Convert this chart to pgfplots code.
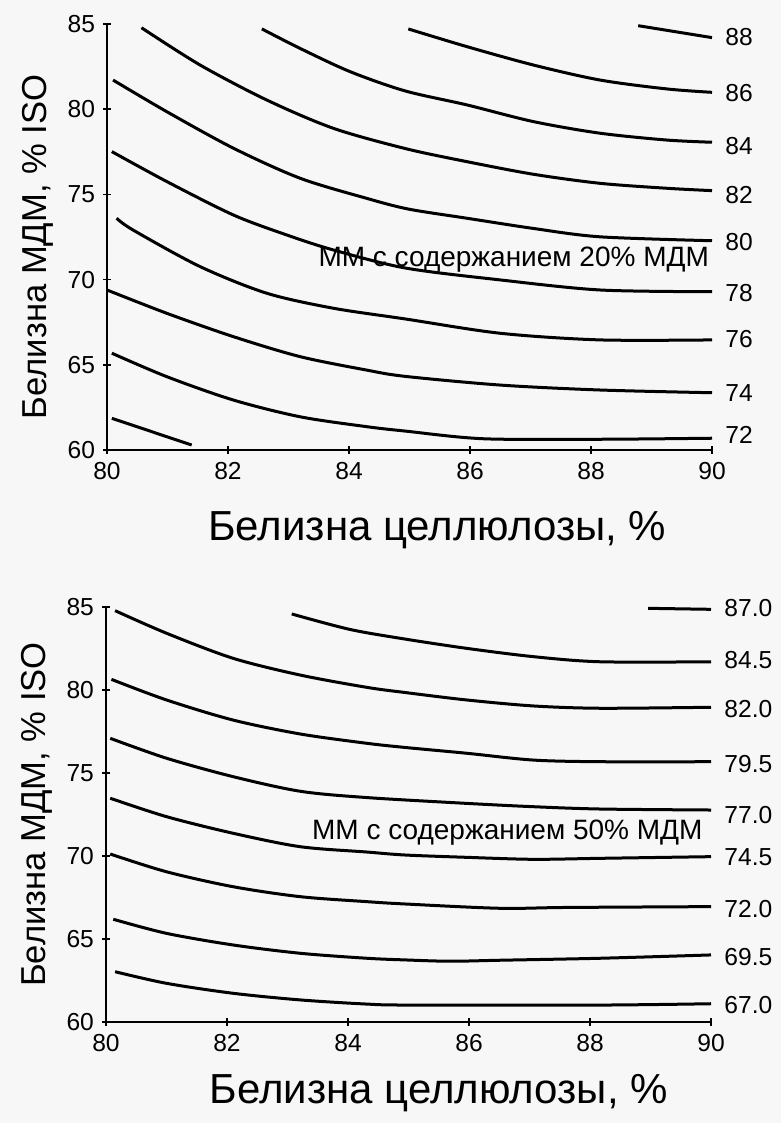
\documentclass[border=0pt]{standalone}
\usepackage{fontspec}
\setmainfont{Liberation Sans}
\usepackage{pgfplots}
\pgfplotsset{compat=1.18}
\definecolor{bgcol}{RGB}{247,247,247}
\pgfplotsset{
  cstyle/.style={
    scale only axis, width=302.5pt, xmin=80, xmax=90, ymin=60, ymax=85,
    axis lines=left, axis line style={-, line width=1.4pt},
    xtick={80,82,...,90}, ytick={60,65,...,85},
    tick align=center, major tick length=4pt, tick style={line width=0.8pt, black},
    /pgf/number format/assume math mode=true,
    ticklabel style={font=\fontsize{12.3}{13}\selectfont},
    xticklabel style={yshift=-0.5pt},
    yticklabel style={xshift=-0.5pt},
    clip=false, no markers,
    every axis plot post/.append style={black, solid, line width=1.5pt, smooth, mark=none},
  },
}
\newcommand{\clab}[2]{\node[anchor=west, inner sep=0pt, font=\fontsize{12.3}{13}\selectfont] at (axis cs:90,#1) [xshift=6.5pt] {#2};}
\begin{document}
\begin{tikzpicture}
\useasboundingbox (0pt,0pt) rectangle (390.5pt,561.5pt);
\fill[bgcol] (0pt,0pt) rectangle (390.5pt,561.5pt);
% ---------- top: ММ с содержанием 20% МДМ ----------
\begin{axis}[cstyle, height=213pt, at={(53.5pt,336.5pt)}, anchor=south west,
  ylabel={Белизна МДМ, \% ISO},
  ylabel style={at={(axis description cs:-0.115,0.477)}, anchor=center, font=\fontsize{17.3}{18}\selectfont},
  xlabel={Белизна целлюлозы, \%},
  xlabel style={at={(axis description cs:0.546,-0.188)}, anchor=center, font=\fontsize{21}{22}\selectfont},
]
% 88
\addplot coordinates {(88.78,84.90) (90,84.20)};
% 86
\addplot coordinates {(84.98,84.71) (85.95,83.67) (87.05,82.59) (88.15,81.71) (89.25,81.19) (90,80.99)};
% 84
\addplot coordinates {(82.56,84.71) (83.19,83.57) (84.02,82.20) (84.93,81.07) (85.95,80.25) (87.05,79.27) (88.15,78.59) (89.25,78.19) (90,78.06)};
% 82
\addplot coordinates {(80.57,84.78) (81.54,82.59) (82.64,80.54) (83.74,78.88) (84.93,77.69) (85.95,76.92) (87.05,76.18) (88.15,75.65) (89.25,75.36) (90,75.22)};
% 80
\addplot coordinates {(80.10,81.71) (80.99,79.85) (82.09,77.71) (83.19,75.95) (84.29,74.77) (84.98,74.14) (85.95,73.60) (87.05,73.00) (88.15,72.51) (90,72.28)};
% 78
\addplot coordinates {(80.08,77.51) (80.99,75.75) (82.09,73.79) (82.97,72.62) (83.74,71.74) (84.93,70.68) (86.50,69.98) (88.15,69.39) (90,69.29)};
% 76
\addplot coordinates {(80.16,73.60) (80.43,72.91) (81.54,70.76) (82.64,69.20) (83.74,68.32) (84.93,67.69) (86.50,66.85) (88.15,66.46) (90,66.46)};
% 74
\addplot coordinates {(80.0,69.39) (80.99,68.02) (82.09,66.65) (83.19,65.48) (84.29,64.69) (84.93,64.32) (86.50,63.81) (88.15,63.52) (90,63.36)};
% 72
\addplot coordinates {(80.08,65.68) (80.99,64.30) (82.09,62.93) (83.19,61.95) (84.29,61.37) (84.93,61.11) (86.22,60.66) (88.15,60.63) (90,60.69)};
% 70
\addplot coordinates {(80.08,61.86) (81.40,60.29)};
\clab{84.24}{88}
\clab{80.95}{86}
\clab{77.84}{84}
\clab{74.96}{82}
\clab{72.21}{80}
\clab{69.22}{78}
\clab{66.52}{76}
\clab{63.35}{74}
\clab{60.89}{72}
\node[anchor=west, inner sep=0pt, font=\fontsize{14}{15}\selectfont] at (axis cs:83.49,71.15) {ММ с содержанием 20\% МДМ};
\end{axis}
% ---------- bottom: ММ с содержанием 50% МДМ ----------
\begin{axis}[cstyle, height=207.5pt, at={(53pt,50.5pt)}, anchor=south west,
  ylabel={Белизна МДМ, \% ISO},
  ylabel style={at={(axis description cs:-0.114,0.5)}, anchor=center, font=\fontsize{17.3}{18}\selectfont},
  xlabel={Белизна целлюлозы, \%},
  xlabel style={at={(axis description cs:0.55,-0.171)}, anchor=center, font=\fontsize{21}{22}\selectfont},
]
% 87.0
\addplot coordinates {(88.96,84.92) (90,84.86)};
% 84.5
\addplot coordinates {(83.07,84.58) (84.03,83.65) (84.94,83.07) (85.96,82.51) (87.06,82.01) (88.17,81.70) (90,81.70)};
% 82.0
\addplot coordinates {(80.15,84.78) (81.0,83.42) (82.10,81.91) (83.21,80.90) (84.31,80.16) (84.94,79.85) (85.96,79.40) (87.06,79.04) (88.17,78.90) (90,78.96)};
% 79.5
\addplot coordinates {(80.09,80.64) (81.0,79.40) (82.10,78.19) (83.21,77.35) (84.31,76.79) (84.94,76.54) (85.96,76.19) (87.06,75.78) (88.17,75.68) (90,75.68)};
% 77.0
\addplot coordinates {(80.07,77.09) (81.0,75.89) (82.10,74.78) (83.21,73.90) (84.31,73.52) (85.96,73.17) (87.06,72.97) (88.17,72.83) (90,72.77)};
% 74.5
\addplot coordinates {(80.07,73.48) (81.0,72.37) (82.10,71.37) (83.21,70.56) (84.31,70.24) (84.94,70.06) (85.96,69.92) (87.06,69.80) (88.17,69.86) (90,69.96)};
% 72.0
\addplot coordinates {(80.07,70.12) (81.0,69.05) (82.10,68.15) (83.21,67.55) (84.31,67.25) (84.94,67.11) (86.51,66.85) (87.61,66.90) (90,66.95)};
% 69.5
\addplot coordinates {(80.12,66.19) (81.0,65.34) (82.10,64.64) (83.21,64.14) (84.31,63.84) (84.94,63.74) (85.69,63.66) (86.51,63.72) (88.17,63.84) (90,64.04)};
% 67.0
\addplot coordinates {(80.15,63.03) (81.0,62.33) (82.10,61.73) (83.21,61.33) (84.31,61.08) (85.02,61.02) (88.17,61.02) (90,61.10)};
\clab{84.94}{87.0}
\clab{81.81}{84.5}
\clab{78.86}{82.0}
\clab{75.54}{79.5}
\clab{72.47}{77.0}
\clab{69.94}{74.5}
\clab{66.81}{72.0}
\clab{63.92}{69.5}
\clab{61.02}{67.0}
\node[anchor=west, inner sep=0pt, font=\fontsize{14}{15}\selectfont] at (axis cs:83.40,71.39) {ММ с содержанием 50\% МДМ};
\end{axis}
\end{tikzpicture}
\end{document}
